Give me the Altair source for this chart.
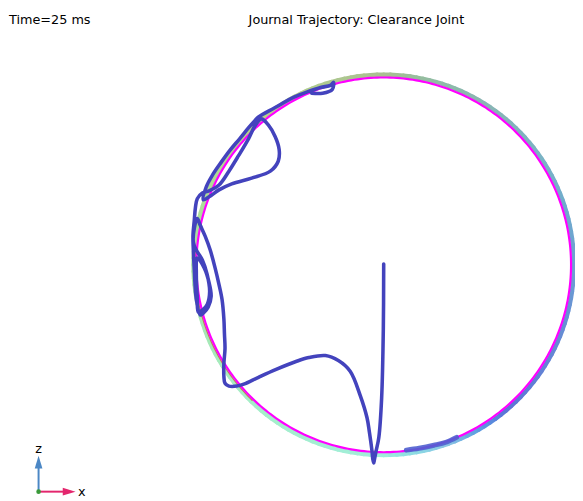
import altair as alt
import numpy as np
import pandas as pd

# ---------------- data (normalised by radial clearance) ----------------
traj_x = [0.000, -0.002, -0.011, -0.026, -0.042, -0.050, -0.053, -0.058, -0.063, -0.076,
          -0.089, -0.126, -0.179, -0.242, -0.311, -0.400, -0.468, -0.574, -0.668, -0.747,
          -0.784, -0.826, -0.847, -0.853, -0.853, -0.847, -0.850, -0.853, -0.863, -0.879,
          -0.900, -0.926, -0.953, -0.979, -0.995, -1.011, -1.016, -1.000,
          -0.968, -0.942, -0.929, -0.942, -0.968, -0.989,
          -0.995, -1.000, -0.995,
          -0.958, -0.932, -0.921, -0.937, -0.963, -0.979,
          -1.000, -1.011, -1.016, -1.018, -1.011, -1.005, -0.995, -0.968, -0.932,
          -0.879, -0.826, -0.774, -0.721, -0.684, -0.653,
          -0.616, -0.579, -0.558, -0.563, -0.605, -0.705, -0.811, -0.879, -0.932, -0.963,
          -0.947, -0.911, -0.868, -0.821, -0.768, -0.721, -0.689, -0.668,
          -0.584, -0.479, -0.400, -0.337, -0.284, -0.268, -0.274, -0.326, -0.384]
traj_z = [0.005, -0.342, -0.711, -0.921, -1.000, -1.042, -1.058, -1.037, -0.989, -0.895,
          -0.816, -0.695, -0.568, -0.511, -0.484, -0.495, -0.516, -0.558, -0.600, -0.637,
          -0.647, -0.647, -0.632, -0.595, -0.526, -0.447, -0.368, -0.289, -0.184, -0.105,
          -0.016, 0.079, 0.153, 0.211, 0.247, 0.195, 0.121, 0.079,
          0.026, -0.053, -0.142, -0.211, -0.242, -0.253,
          -0.174, -0.053, 0.037,
          -0.016, -0.095, -0.168, -0.226, -0.258, -0.268,
          -0.184, -0.026, 0.079, 0.158, 0.237, 0.305, 0.353, 0.384, 0.395,
          0.426, 0.500, 0.584, 0.674, 0.747, 0.779,
          0.747, 0.684, 0.616, 0.553, 0.500, 0.463, 0.432, 0.400, 0.363, 0.347,
          0.416, 0.484, 0.547, 0.611, 0.674, 0.732, 0.768, 0.789,
          0.837, 0.895, 0.926, 0.947, 0.958, 0.974, 0.937, 0.916, 0.916]

# contact streak at bottom right
streak_x = [0.121, 0.189, 0.268, 0.332, 0.389]
streak_z = [-0.989, -0.979, -0.963, -0.947, -0.921]

clearance_radius = 1.0
ring_radius = 1.015
edge_radius = 1.008
edge_angles = [175, 226]

ring_color_angles = [0, 30, 60, 90, 135, 180, 225, 270, 290, 310, 335, 360]
ring_colors = ["#6f9fd2", "#78b2c8", "#8bb5b3", "#a9bf91", "#b6d68c", "#a6e2a4",
               "#a6eec7", "#a2eedb", "#8cc4e2", "#5d73d6", "#6688d4", "#6f9fd2"]

# view: plot area covers the whole 583x501 window (negative padding cancels the page margin)
X_DOMAIN = [-2.0474, 1.0211]
Z_DOMAIN = [-1.2421, 1.3947]
W, H = 583, 501
PAD = {"left": -8, "top": -8, "right": 0, "bottom": 0}

# ---------------- tables ----------------
traj = pd.DataFrame({"x": traj_x, "z": traj_z, "i": range(len(traj_x))})
streak = pd.DataFrame({"x": streak_x, "z": streak_z, "i": range(len(streak_x))})

th = np.deg2rad(np.arange(0, 361, 1))
circ = pd.DataFrame({"x": clearance_radius * np.cos(th), "z": clearance_radius * np.sin(th),
                     "i": range(len(th))})

a = np.arange(0, 360, 2)
a2 = a + 2
ring = pd.DataFrame({
    "x": ring_radius * np.cos(np.deg2rad(a)), "z": ring_radius * np.sin(np.deg2rad(a)),
    "x2": ring_radius * np.cos(np.deg2rad(a2)), "z2": ring_radius * np.sin(np.deg2rad(a2)),
    "ang": a + 1,
})

ea = np.deg2rad(np.arange(edge_angles[0], edge_angles[1] + 1, 1))
edge = pd.DataFrame({"x": edge_radius * np.cos(ea), "z": edge_radius * np.sin(ea), "i": range(len(ea))})

xs = alt.Scale(domain=X_DOMAIN, nice=False, zero=False)
zs = alt.Scale(domain=Z_DOMAIN, nice=False, zero=False)
X = alt.X("x:Q", scale=xs, axis=None)
Z = alt.Y("z:Q", scale=zs, axis=None)

ring_layer = alt.Chart(ring).mark_rule(strokeWidth=4.5, strokeCap="round").encode(
    x=X, y=Z, x2="x2:Q", y2="z2:Q",
    color=alt.Color("ang:Q", scale=alt.Scale(domain=ring_color_angles, range=ring_colors), legend=None),
)
edge_layer = alt.Chart(edge).mark_line(color="#c47a5a", strokeWidth=1.2).encode(x=X, y=Z, order="i:Q")
circ_layer = alt.Chart(circ).mark_line(color="#ff00ff", strokeWidth=2.2).encode(x=X, y=Z, order="i:Q")
streak_layer = alt.Chart(streak).mark_line(color="#4f5fcf", strokeWidth=5, strokeCap="round",
                                           interpolate="catmull-rom", opacity=0.9).encode(
    x=X, y=Z, order="i:Q")
traj_layer = alt.Chart(traj).mark_line(color="#4343bd", strokeWidth=3.6, strokeCap="round",
                                       strokeJoin="round", interpolate="catmull-rom").encode(
    x=X, y=Z, order="i:Q")

one = pd.DataFrame({"t": ["Time=25 ms"]})
ttl = pd.DataFrame({"t": ["Journal Trajectory: Clearance Joint"]})
time_text = alt.Chart(one).mark_text(align="left", baseline="middle", fontSize=13,
                                     font="DejaVu Sans", color="black").encode(
    x=alt.value(9), y=alt.value(17), text="t:N")
title_text = alt.Chart(ttl).mark_text(align="left", baseline="middle", fontSize=13,
                                      font="DejaVu Sans", color="black").encode(
    x=alt.value(252), y=alt.value(17), text="t:N")

dummy = pd.DataFrame({"k": [0]})
z_shaft = alt.Chart(dummy).mark_rule(color="#4b87c5", strokeWidth=2).encode(
    x=alt.value(39), y=alt.value(494), y2=alt.value(470))
z_head = alt.Chart(dummy).mark_point(shape="M0,-1L0.6,1L-0.6,1Z", filled=True, size=169,
                                     color="#4b87c5", opacity=1).encode(x=alt.value(39), y=alt.value(465))
x_shaft = alt.Chart(dummy).mark_rule(color="#e3266d", strokeWidth=2).encode(
    x=alt.value(40), x2=alt.value(66), y=alt.value(495))
x_head = alt.Chart(dummy).mark_point(shape="M1,0L-1,0.6L-1,-0.6Z", filled=True, size=169,
                                     color="#e3266d", opacity=1).encode(x=alt.value(70), y=alt.value(495))
y_dot = alt.Chart(dummy).mark_point(shape="circle", filled=True, size=22, color="#3a9a3a",
                                    opacity=1).encode(x=alt.value(39), y=alt.value(495))
z_lab = alt.Chart(pd.DataFrame({"t": ["z"]})).mark_text(fontSize=13, font="DejaVu Sans", color="black",
                                                       baseline="middle", align="center").encode(
    x=alt.value(39), y=alt.value(452), text="t:N")
x_lab = alt.Chart(pd.DataFrame({"t": ["x"]})).mark_text(fontSize=13, font="DejaVu Sans", color="black",
                                                       baseline="middle", align="left").encode(
    x=alt.value(79), y=alt.value(495), text="t:N")

chart = alt.layer(
    ring_layer, edge_layer, circ_layer, streak_layer, traj_layer,
    time_text, title_text, z_shaft, z_head, x_shaft, x_head, y_dot, z_lab, x_lab,
).properties(
    width=W, height=H, padding=PAD, autosize=alt.AutoSizeParams(type="none"), background="white",
).configure_view(stroke=None)

chart.save("out.html", embed_options={"renderer": "svg", "actions": False})
